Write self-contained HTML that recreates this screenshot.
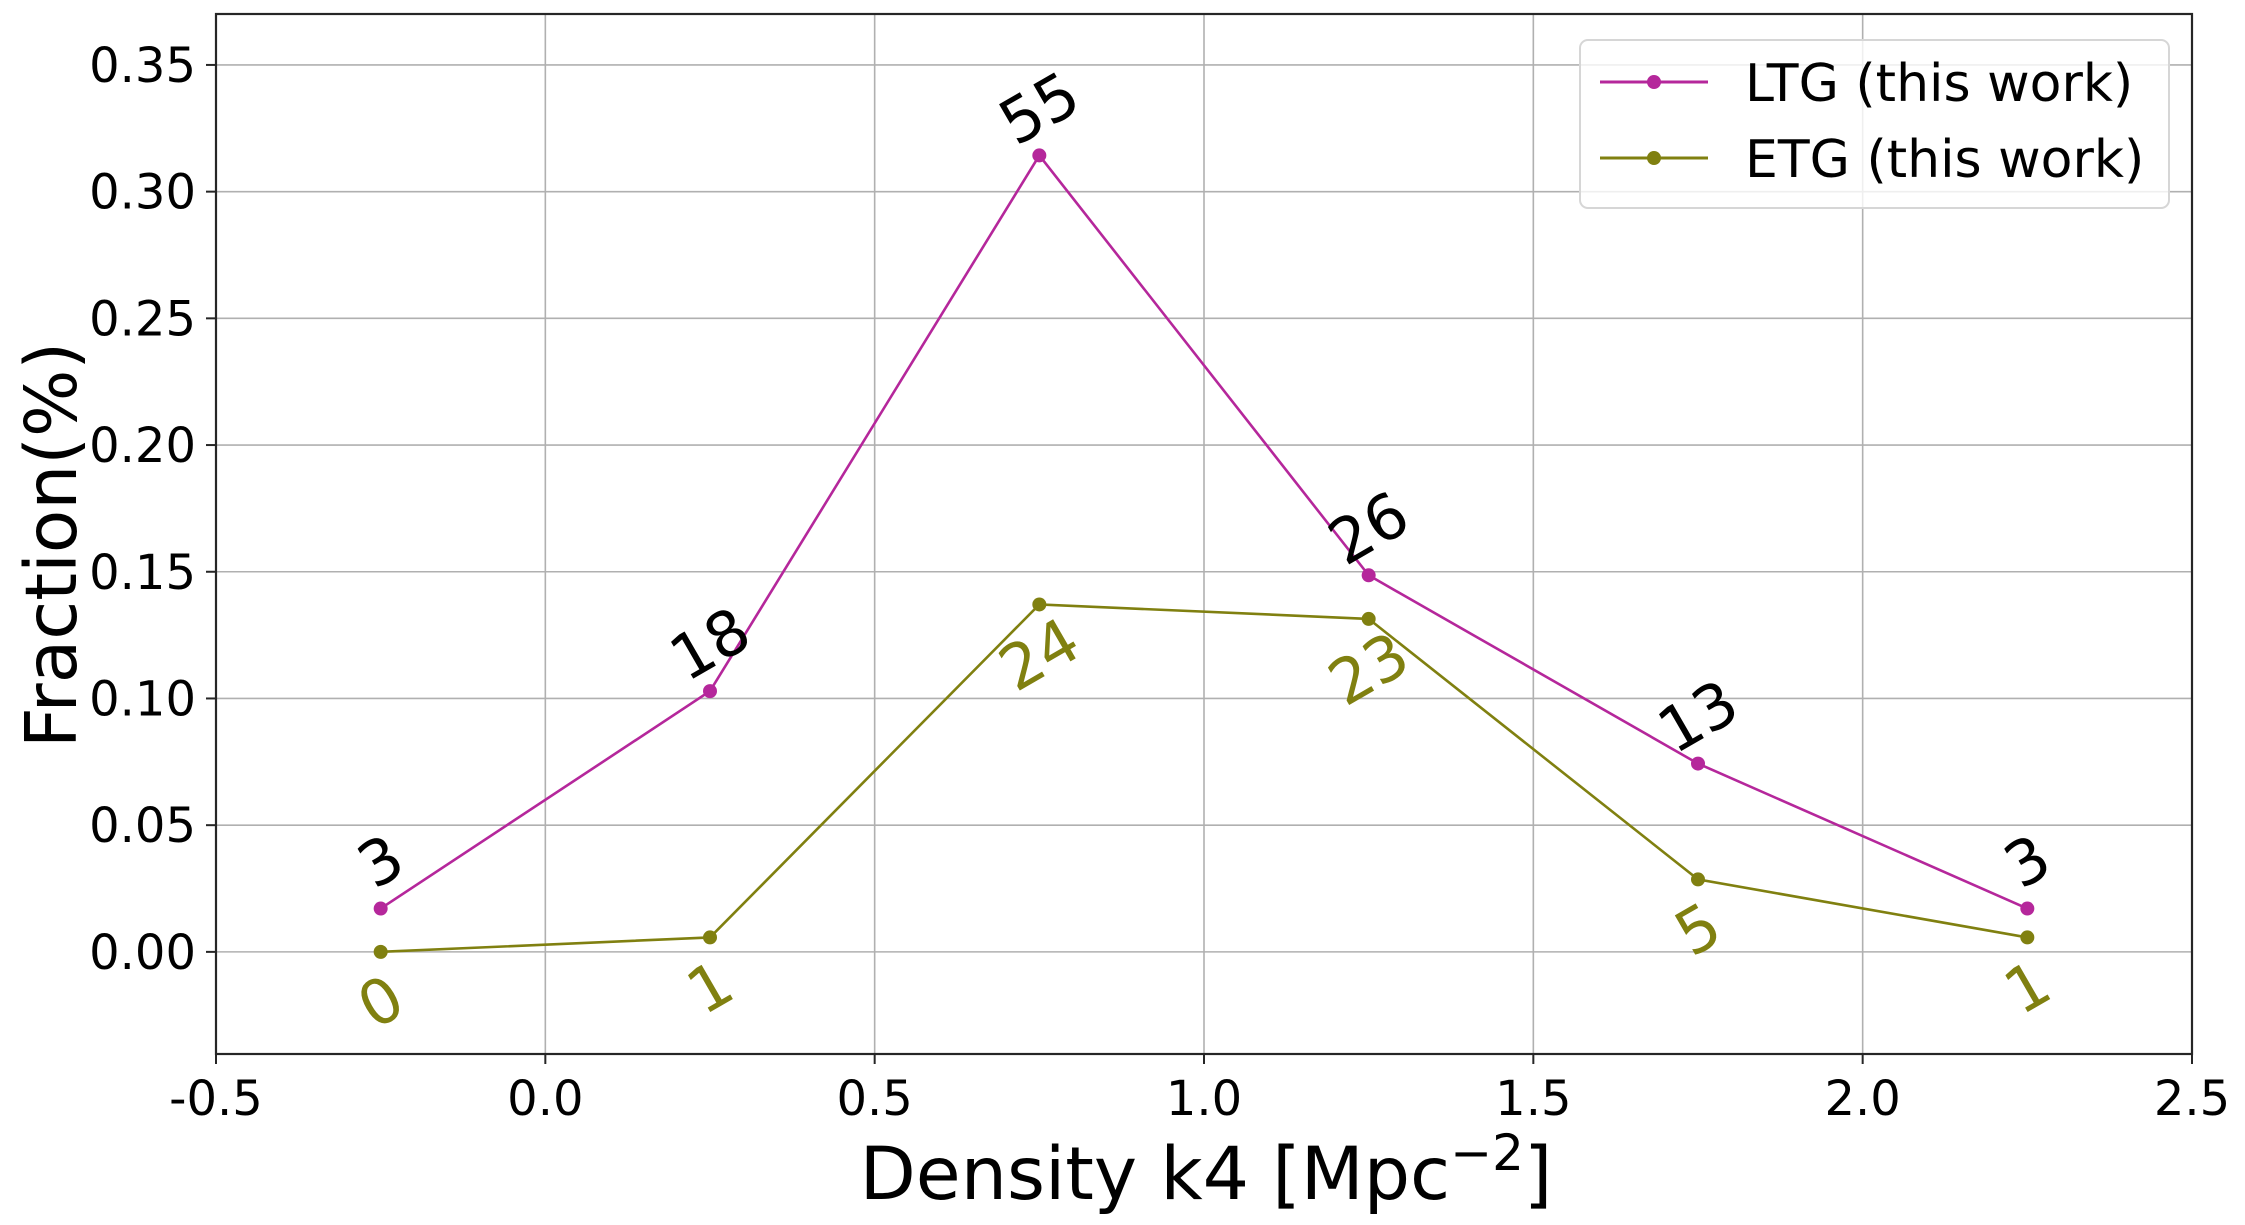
<!DOCTYPE html>
<html><head><meta charset="utf-8"><style>
html,body{margin:0;padding:0;background:#fff;}
svg{display:block;font-family:"DejaVu Sans","Liberation Sans",sans-serif;}
</style></head><body>
<svg id="chart" width="2245" height="1225" viewBox="0 0 2245 1225" xmlns="http://www.w3.org/2000/svg">
<rect x="0" y="0" width="2245" height="1225" fill="#fff"/>
<g id="grid"></g>
<g id="series"></g>
<g id="axes"></g>
<text x="1206" y="1199" font-size="73" text-anchor="middle">Density k4 [Mpc<tspan baseline-shift="super" font-size="50">−2</tspan>]</text>
<text transform="translate(76,545) rotate(-90)" font-size="71" text-anchor="middle">Fraction(%)</text>
<g>
<rect x="1580" y="40" width="589" height="168" rx="8" fill="#fff" fill-opacity="0.8" stroke="#d6d6d6" stroke-width="2"/>
<g>
<line x1="1600" y1="82" x2="1708" y2="82" stroke="#b5279b" stroke-width="3"/>
<circle cx="1654" cy="82" r="7" fill="#b5279b"/>
<text x="1745" y="101" font-size="52">LTG (this work)</text>
</g>
<g>
<line x1="1600" y1="158" x2="1708" y2="158" stroke="#808010" stroke-width="3"/>
<circle cx="1654" cy="158" r="7" fill="#808010"/>
<text x="1745" y="177" font-size="52">ETG (this work)</text>
</g>
</g>
</svg>
<script>
const categories = [-0.25, 0.25, 0.75, 1.25, 1.75, 2.25];
const ltgValues = [0.0171, 0.1029, 0.3143, 0.1486, 0.0743, 0.0171];
const etgValues = [0.0, 0.0057, 0.1371, 0.1314, 0.0286, 0.0057];
const ltgCounts = ["3", "18", "55", "26", "13", "3"];
const etgCounts = ["0", "1", "24", "23", "5", "1"];
const xTicks = [-0.5, 0.0, 0.5, 1.0, 1.5, 2.0, 2.5];
const xTickLabels = ["-0.5", "0.0", "0.5", "1.0", "1.5", "2.0", "2.5"];
const yTicks = [0.0, 0.05, 0.10, 0.15, 0.20, 0.25, 0.30, 0.35];
const yTickLabels = ["0.00", "0.05", "0.10", "0.15", "0.20", "0.25", "0.30", "0.35"];

const NS = "http://www.w3.org/2000/svg";
const L = 216, R = 2192, T = 14, B = 1054;
const xMin = -0.5, xMax = 2.5, yMin = -0.0403, yMax = 0.3701;
function xs(v){ return L + (v - xMin) / (xMax - xMin) * (R - L); }
function ys(v){ return B - (v - yMin) / (yMax - yMin) * (B - T); }
function mk(tag, attrs, parent){
  const e = document.createElementNS(NS, tag);
  for (const k in attrs) e.setAttribute(k, attrs[k]);
  parent.appendChild(e);
  return e;
}
const grid = document.getElementById('grid');
const axes = document.getElementById('axes');
const series = document.getElementById('series');

xTicks.forEach((t, i) => {
  const g = mk('line', {x1: xs(t), x2: xs(t), y1: T, y2: B, stroke: '#b0b0b0', 'stroke-width': 1.6}, grid);
  
  
  const tk = mk('line', {x1: xs(t), x2: xs(t), y1: B, y2: B + 10, stroke: '#262626', 'stroke-width': 2}, axes);
  
  
  const lb = mk('text', {x: xs(t), y: 1115, 'font-size': 48, 'text-anchor': 'middle'}, axes);
  lb.textContent = xTickLabels[i];
  
  
});
yTicks.forEach((t, i) => {
  const g = mk('line', {x1: L, x2: R, y1: ys(t), y2: ys(t), stroke: '#b0b0b0', 'stroke-width': 1.6}, grid);
  
  
  const tk = mk('line', {x1: L - 10, x2: L, y1: ys(t), y2: ys(t), stroke: '#262626', 'stroke-width': 2}, axes);
  
  
  const lb = mk('text', {x: L - 20, y: ys(t) + 17, 'font-size': 48, 'text-anchor': 'end'}, axes);
  lb.textContent = yTickLabels[i];
  
  
});
const frame = mk('rect', {x: L, y: T, width: R - L, height: B - T, fill: 'none', stroke: '#262626', 'stroke-width': 2.2}, axes);



function drawSeries(vals, counts, color, labelColor, off, name){
  const pts = vals.map((v, i) => xs(categories[i]) + ',' + ys(v)).join(' ');
  const pl = mk('polyline', {points: pts, fill: 'none', stroke: color, 'stroke-width': 2.6}, series);
  
  
  vals.forEach((v, i) => {
    const c = mk('circle', {cx: xs(categories[i]), cy: ys(v), r: 7, fill: color}, series);
    
    
    const tx = xs(categories[i]), ty = ys(v) + off;
    const t = mk('text', {x: tx, y: ty, 'font-size': 62, 'text-anchor': 'middle', 'dominant-baseline': 'central', fill: labelColor, transform: 'rotate(-30 ' + tx + ' ' + ty + ')'}, series);
    t.textContent = counts[i];
    
    
  });
}
drawSeries(ltgValues, ltgCounts, '#b5279b', '#000', -47, 'ltg');
drawSeries(etgValues, etgCounts, '#808010', '#808010', 50, 'etg');
</script>
</body></html>
